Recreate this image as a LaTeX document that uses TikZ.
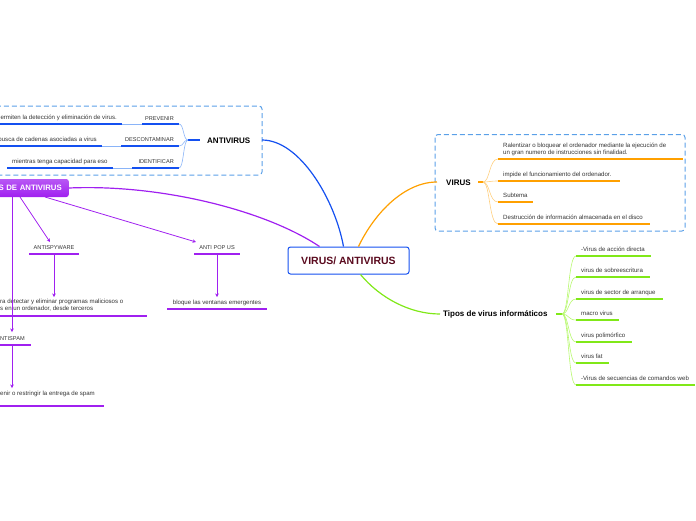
\documentclass[tikz,border=0pt]{standalone}
\usepackage{fontspec}
\setmainfont{Liberation Sans}
\usetikzlibrary{arrows.meta}
\definecolor{cblue}{HTML}{1450F0}
\definecolor{lblue}{HTML}{5AA0E8}
\definecolor{tblue}{HTML}{8AB4F8}
\definecolor{cpurp}{HTML}{A020F0}
\definecolor{corange}{HTML}{FFA000}
\definecolor{lorange}{HTML}{FFD080}
\definecolor{cgreen}{HTML}{80E818}
\definecolor{lgreen}{HTML}{B8F870}
\definecolor{ctext}{HTML}{333333}
\definecolor{dred}{HTML}{5A0A1E}
\begin{document}
\begin{tikzpicture}[x=1pt,y=-1pt,
  txt/.style={font=\fontsize{6.1}{7}\selectfont, text=ctext, inner sep=0pt, align=left},
  lab/.style={font=\fontsize{5.6}{6.5}\selectfont, text=ctext, inner sep=0pt},
  bold8/.style={font=\bfseries\fontsize{8}{9}\selectfont, text=black, inner sep=0pt},
  uline/.style={line width=2pt},
  bline/.style={uline, cblue},
  pline/.style={uline, cpurp},
  oline/.style={uline, corange},
  gline/.style={uline, cgreen},
  thinb/.style={line width=0.6pt, tblue},
  parr/.style={line width=0.8pt, cpurp, -{Stealth[length=3.5pt,width=3.5pt]}},
  ofan/.style={line width=0.6pt, lorange},
  gfan/.style={line width=0.6pt, lgreen},
  dbox/.style={draw=lblue, dashed, dash pattern=on 5pt off 3pt, line width=1pt, rounded corners=3pt}
]
\useasboundingbox (0,0) rectangle (696,520);
\clip (0,0) rectangle (696,520);

% ---------- central node ----------
\node[draw=cblue, line width=1pt, rounded corners=2.5pt, fill=white, minimum width=121pt, minimum height=27pt,
      font=\bfseries\fontsize{10.5}{12}\selectfont, text=dred] (c) at (348.5,260.5) {VIRUS/ ANTIVIRUS};
\path (c.north) ++(-5,0) coordinate (cavs);
\path (c.north west) ++(32,0) coordinate (cpe);
\path (c.north east) ++(-51,0) coordinate (cve);
\path (c.south east) ++(-49,0) coordinate (cge);

% ---------- ANTIVIRUS box ----------
\draw[dbox] (-10,106) rectangle (262,175);
\coordinate (avend) at (262,140);
\node[bold8, anchor=west] (av) at (207,140.5) {ANTIVIRUS};
\coordinate (avj) at (188,140);
\coordinate (avs) at (200,140);
\draw[cblue, line width=1.2pt] (cavs) .. controls (335,200) and (300,140) .. (avend);
\draw[cblue, line width=1.6pt] (avj) -- (avs);

% PREVENIR
\node[lab, anchor=base east] (prev) at (174,120) {PREVENIR};
\coordinate (prevL) at (142,124); \coordinate (prevR) at (179,124);
\draw[bline] (prevL) -- (prevR);
\node[txt, anchor=base east] (prevt) at (117,119) {ermiten la detección y eliminación de virus.};
\coordinate (prevtL) at (-5,124); \coordinate (prevtR) at (122,124);
\draw[bline] (prevtL) -- (prevtR);
\draw[thinb] (prevtR) -- (prevL);
\draw[thinb] (prevR) .. controls (184,124) and (183,140) .. (avj);

% DESCONTAMINAR
\node[lab, anchor=base east] (desc) at (174,141.5) {DESCONTAMINAR};
\coordinate (descL) at (121,146); \coordinate (descR) at (179,146);
\draw[bline] (descL) -- (descR);
\node[txt, anchor=base east] (desct) at (97,141.5) {busca de cadenas asociadas a virus};
\coordinate (desctL) at (-5,146); \coordinate (desctR) at (102,146);
\draw[bline] (desctL) -- (desctR);
\draw[thinb] (desctR) -- (descL);
\draw[thinb] (descR) .. controls (184,146) and (183,140) .. (avj);

% IDENTIFICAR
\node[lab, anchor=base east] (iden) at (174,163.5) {IDENTIFICAR};
\coordinate (idenL) at (132,168); \coordinate (idenR) at (179,168);
\draw[bline] (idenL) -- (idenR);
\node[txt, anchor=base west] (ident) at (12,163) {mientras tenga capacidad para eso};
\coordinate (identL) at (7,168); \coordinate (identR) at (113,168);
\draw[bline] (identL) -- (identR);
\draw[thinb] (identR) -- (idenL);
\draw[thinb] (idenR) .. controls (184,168) and (183,140) .. (avj);

% ---------- purple part ----------
\node[top color=cpurp!75!white, bottom color=cpurp, rounded corners=2.5pt, text=white,
      font=\bfseries\fontsize{7.8}{9}\selectfont, anchor=east, text width=80pt, align=right,
      inner xsep=7pt, minimum height=18pt] (tp) at (69,188) {S DE ANTIVIRUS};
\draw[cpurp, line width=1.2pt] (tp.east) .. controls (160,184) and (265,210) .. (cpe);

\node[lab, anchor=base] (asw) at (54,249) {ANTISPYWARE};
\coordinate (aswL) at (29,254); \coordinate (aswR) at (79,254); \coordinate (aswM) at (54,254);
\draw[pline] (aswL) -- (aswR);
\coordinate (tps1) at (20,197);
\draw[parr] (tps1) -- (50,242);

\node[lab, anchor=base] (apu) at (217,249) {ANTI POP US};
\coordinate (apuL) at (194,254); \coordinate (apuR) at (240,254); \coordinate (apuM) at (217,254);
\draw[pline] (apuL) -- (apuR);
\coordinate (tps2) at (45,197);
\draw[parr] (tps2) -- (196,242);

\node[txt, anchor=north west] (aswt) at (0,299) {ra detectar y eliminar programas maliciosos o\\s en un ordenador, desde terceros};
\coordinate (aswtL) at (-5,316); \coordinate (aswtR) at (147,316);
\draw[pline] (aswtL) -- (aswtR);
\draw[parr] (aswM) -- (54,297);

\node[txt, anchor=base] (aput) at (217,304) {bloque las ventanas emergentes};
\coordinate (aputL) at (167,309); \coordinate (aputR) at (267,309);
\draw[pline] (aputL) -- (aputR);
\draw[parr] (apuM) -- (217,297);

\node[lab, anchor=base west] (asp) at (0,340) {NTISPAM};
\coordinate (aspL) at (-5,345); \coordinate (aspR) at (31,345); \coordinate (aspM) at (12,345);
\draw[pline] (aspL) -- (aspR);
\coordinate (tps3) at (12,197);
\draw[parr] (tps3) -- (12,332);

\node[txt, anchor=base west] (aspt) at (0,395) {enir o restringir la entrega de spam};
\coordinate (asptL) at (-5,406); \coordinate (asptR) at (104,406);
\draw[pline] (asptL) -- (asptR);
\draw[parr] (aspM) -- (12,388);

% ---------- VIRUS ----------
\draw[dbox] (435,134.5) rectangle (685,231);
\node[bold8, anchor=west] (vi) at (446,182.5) {VIRUS};
\coordinate (vend) at (437,182);
\draw[corange, line width=1.2pt] (cve) .. controls (375,212) and (405,182) .. (vend);
\coordinate (vj) at (483,182);
\draw[corange, line width=1.4pt] (478,182) -- (vj);

\node[txt, anchor=south west] (v1) at (503,155.5) {Ralentizar o bloquear el ordenador mediante la ejecución de\\un gran numero de instrucciones sin finalidad.};
\coordinate (v1L) at (498,159); \coordinate (v1R) at (683,159);
\node[txt, anchor=base west] (v2) at (503,176) {impide el funcionamiento del ordenador.};
\coordinate (v2L) at (498,181); \coordinate (v2R) at (620,181);
\node[txt, anchor=base west] (v3) at (503,197) {Subtema};
\coordinate (v3L) at (498,202); \coordinate (v3R) at (533,202);
\node[txt, anchor=base west] (v4) at (503,219) {Destrucción de información almacenada en el disco};
\coordinate (v4L) at (498,224); \coordinate (v4R) at (650,224);
\foreach \i in {1,...,4}{
  \draw[ofan] (vj) .. controls (490,182) and (489,0|-v\i L) .. (v\i L);
  \draw[oline] (v\i L) -- (v\i R);
}

% ---------- Tipos de virus ----------
\node[bold8, anchor=west] (tv) at (443,314.5) {Tipos de virus informáticos};
\coordinate (tvend) at (440,314);
\draw[cgreen, line width=1.2pt] (cge) .. controls (380,298) and (410,314) .. (tvend);
\coordinate (gj) at (562,314);
\draw[cgreen, line width=1.4pt] (556,314) -- (gj);

\node[txt, anchor=base west] (g1) at (581,251) {-Virus de acción directa};
\coordinate (g1L) at (576,256); \coordinate (g1R) at (651,256);
\node[txt, anchor=base west] (g2) at (581,272) {virus de sobreescritura};
\coordinate (g2L) at (576,277); \coordinate (g2R) at (650,277);
\node[txt, anchor=base west] (g3) at (581,294) {virus de sector de arranque};
\coordinate (g3L) at (576,299); \coordinate (g3R) at (663,299);
\node[txt, anchor=base west] (g4) at (581,315) {macro virus};
\coordinate (g4L) at (576,320); \coordinate (g4R) at (619,320);
\node[txt, anchor=base west] (g5) at (581,337) {virus polimórfico};
\coordinate (g5L) at (576,342); \coordinate (g5R) at (632,342);
\node[txt, anchor=base west] (g6) at (581,358) {virus fat};
\coordinate (g6L) at (576,363); \coordinate (g6R) at (609,363);
\node[txt, anchor=base west] (g7) at (581,380) {-Virus de secuencias de comandos web};
\coordinate (g7L) at (576,385); \coordinate (g7R) at (695,385);
\foreach \i in {1,...,7}{
  \draw[gfan] (gj) .. controls (569,314) and (568,0|-g\i L) .. (g\i L);
  \draw[gline] (g\i L) -- (g\i R);
}
\end{tikzpicture}
\end{document}
